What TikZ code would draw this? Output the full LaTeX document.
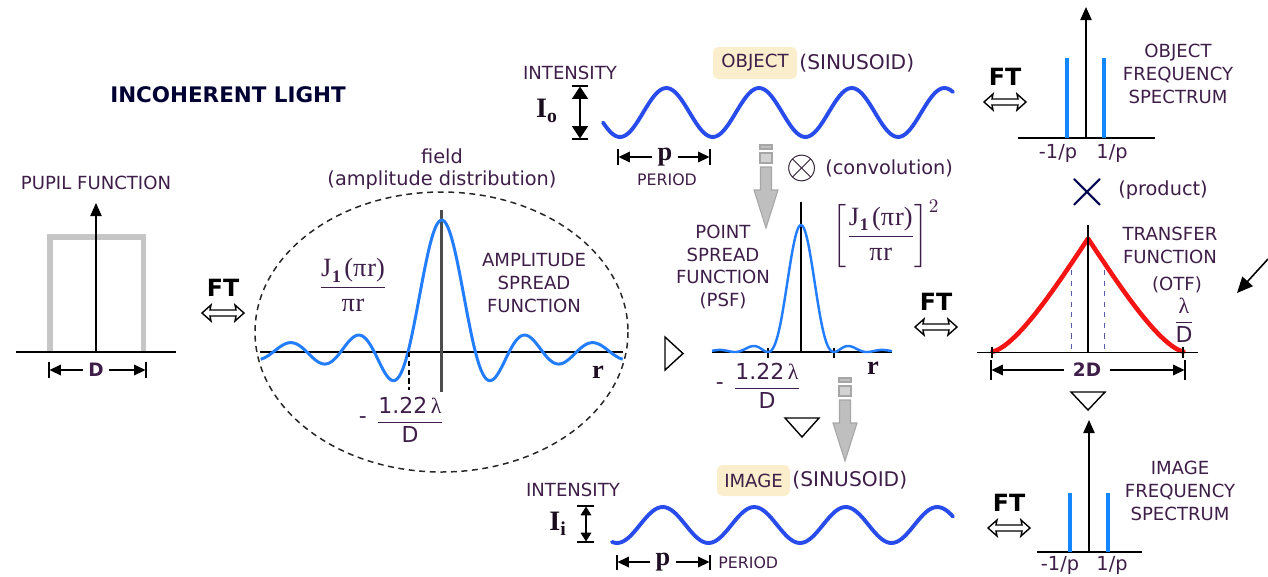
\documentclass[tikz,border=0pt]{standalone}
\usepackage{amsmath,amssymb}
\usepackage{graphicx}
\usepackage[no-math]{fontspec}
\setmainfont{DejaVu Sans}
\newfontfamily\lserif{Liberation Serif}
\usetikzlibrary{arrows.meta,positioning}

\definecolor{lblpurple}{RGB}{62,30,72}
\definecolor{asfblue}{RGB}{35,125,255}
\definecolor{sinblue}{RGB}{40,75,235}
\definecolor{barblue}{RGB}{20,135,255}
\definecolor{hilite}{RGB}{251,238,205}
\definecolor{otfred}{RGB}{245,20,20}

% J1(pi r) / pi r en romain
\newcommand{\besselnum}{\hbox{\lserif J\kern0.5pt\raisebox{-3pt}{\fontsize{10}{10}\selectfont\bfseries 1}\kern2pt(π\kern0.5pt r)}}
\newcommand{\besselden}{\hbox{\lserif π\kern0.5pt r}}

\tikzset{
  lbl/.style={text=lblpurple, font=\fontsize{10.3}{13}\selectfont, align=center, inner sep=0pt},
  smalllbl/.style={lbl, font=\fontsize{9}{11}\selectfont},
  note/.style={lbl, font=\fontsize{11}{12.5}\selectfont},
  ticklbl/.style={lbl, font=\fontsize{11}{13}\selectfont},
  titlelbl/.style={text=black!80!blue, font=\fontsize{12.2}{14}\selectfont\bfseries, inner sep=0pt},
  ftlbl/.style={font=\fontsize{13.5}{15}\selectfont\bfseries, inner sep=0pt},
  dimlbl/.style={text=lblpurple, font=\fontsize{10.5}{12}\selectfont\bfseries, inner sep=3pt},
  plbl/.style={text=lblpurple!50!black, font=\lserif\bfseries\fontsize{15}{16}\selectfont, inner sep=3pt},
  ilbl/.style={text=lblpurple!40!black, font=\lserif\bfseries\fontsize{16}{18}\selectfont, inner sep=0pt},
  mathlbl/.style={text=lblpurple, font=\fontsize{15}{17}\selectfont, inner sep=0pt},
  fraclbl/.style={text=lblpurple, font=\fontsize{12.5}{14}\selectfont, inner sep=0pt},
  opsym/.style={text=lblpurple!50!black, font=\fontsize{20}{20}\selectfont, inner sep=0pt},
  hibox/.style={lbl, fill=hilite, rounded corners=3pt},
  axis/.style={black, line width=0.8pt},
  axisarr/.style={axis, -{Triangle[length=7.5pt,width=6.5pt]}},
  dimtick/.style={black, line width=0.9pt},
  dimarr/.style={black, line width=0.9pt, -{Triangle[length=6.5pt,width=6pt]}},
  bigdim/.style={black, line width=0.9pt, {Triangle[length=7pt,width=9pt]}-{Triangle[length=7pt,width=9pt]}},
  smalldim/.style={black, line width=0.9pt, {Triangle[length=5pt,width=6pt]}-{Triangle[length=5pt,width=6pt]}},
  pupilrect/.style={gray!45, line width=3.4pt},
  fielddash/.style={gray!30!black, line width=0.85pt, dash pattern=on 3.4pt off 2.6pt},
  asfcurve/.style={asfblue, line width=1.7pt, line join=round},
  sinwave/.style={sinblue, line width=2.2pt, line cap=round},
  otfcurve/.style={otfred, line width=2.6pt, line cap=round},
  otfdash/.style={gray!70!blue, line width=0.5pt, dashed},
  zeromark/.style={black, line width=0.7pt, dash pattern=on 3pt off 2pt},
  specbar/.style={barblue, line width=2.3pt},
  hollowtri/.style={black, line width=0.8pt, line join=miter, fill=white},
  garrow/.style={fill=gray!50, draw=gray!70, line width=0.6pt},
  ftarrow/.style={black, line width=0.8pt, line join=miter, fill=white},
  ftsign/.pic={
    \node[ftlbl] (-t) at (0,-25) {FT};
    \filldraw[ftarrow] (-21,0) -- (-12,-8) -- (-13,-3) -- (13,-3) -- (12,-8) -- (21,0)
                       -- (12,8) -- (13,3) -- (-13,3) -- (-12,8) -- cycle;
  },
  grayarrow/.pic={
    \filldraw[garrow] (-6,0) rectangle (6,4);
    \filldraw[garrow, fill=gray!35] (-6,8) rectangle (6,18);
    \filldraw[garrow] (-5.5,22) -- (5.5,22) -- (5.5,45) -- (12,45) -- (0,83)
                      -- (-12,45) -- (-5.5,45) -- cycle;
  }
}

\begin{document}
\begin{tikzpicture}[x=0.02cm, y=-0.02cm,
  declare function={sincf(\t)=sin(\t*180)/(pi*\t);
                     otf(\t)=2/pi*(rad(acos(\t))-\t*sqrt(1-\t*\t));}]
  \useasboundingbox (0,0) rectangle (1268,576);

  % ==========================================
  % TITRE
  % ==========================================
  \node[titlelbl] (title) at (228,95) {INCOHERENT LIGHT};

  % ==========================================
  % SECTION 1 : PUPILLE (À GAUCHE)
  % ==========================================
  \begin{scope}
    \draw[pupilrect] (50,352) -- (50,237) -- (143.5,237) -- (143.5,352);
    \draw[axis] (16,352) -- (176,352);
    \draw[axisarr] (96,352) -- (96,203);
    \node[lbl] (pupil) at (96,183) {PUPIL FUNCTION};

    % Largeur D
    \draw[dimtick] (49,362) -- (49,378);
    \draw[dimtick] (146,362) -- (146,378);
    \node[dimlbl] (pupD) at (96,370) {D};
    \coordinate (pupL) at (49.5,370);
    \coordinate (pupR) at (145.5,370);
    \draw[dimarr] (pupD) -- (pupL);
    \draw[dimarr] (pupD) -- (pupR);
  \end{scope}

  \pic (ftA) at (223,313) {ftsign};

  % ==========================================
  % SECTION 2 : AMPLITUDE (ELLIPSE)
  % ==========================================
  \begin{scope}
    \draw[fielddash] (441.5,332) ellipse [x radius=186.5, y radius=140];
    \node[note] (field) at (442,169) {field\\(amplitude distribution)};

    \draw[axis] (260,352) -- (623,352);
    \draw[gray!60!black, line width=1.4pt] (441.7,210) -- (441.7,392);
    \draw[asfcurve] plot[domain=-181:181, samples=200]
      ({441.7+\x}, {352-132*sincf(\x/33.7)});

    % Premier zéro
    \draw[zeromark] (409,352) -- (409,390);
    \node[fraclbl] (asfz) at (410,420) {$\dfrac{\text{1.22\,{\lserif λ}}}{\text{D}}$};
    \node[fraclbl, left=5pt of asfz] (asfm) {-};

    \node[mathlbl] (asfJ) at (353,285) {$\dfrac{\besselnum}{\besselden}$};
    \node[lbl] (asfname) at (534,283) {AMPLITUDE\\SPREAD\\FUNCTION};
    \node[plbl] (asfr) at (598,372) {r};
  \end{scope}

  \draw[hollowtri] (665,337) -- (683,353.5) -- (665,370) -- cycle;

  % ==========================================
  % SECTION 3 : OBJET (SINUSOÏDE)
  % ==========================================
  \begin{scope}
    \node[lbl] (oint) at (570,73) {INTENSITY};
    \node[ilbl] (oI) at (547,111) {I\textsubscript{o}};
    \draw[dimtick] (572,86) -- (588,86);
    \draw[dimtick] (572,139) -- (588,139);
    \coordinate (oT) at (580,86.5);
    \coordinate (oB) at (580,138.5);
    \draw[bigdim] (oT) -- (oB);

    \draw[sinwave] plot[domain=603:953, samples=140]
      (\x, {112.5+24.5*cos((\x-620)/92.7*360)});

    \node[hibox, minimum width=1.68cm, minimum height=0.64cm] (objbox) at (755,63) {OBJECT};
    \node[lbl, font=\fontsize{11.5}{13}\selectfont, right=1pt of objbox] (objsin) {(SINUSOID)};

    % Période p
    \draw[dimtick] (618,149) -- (618,165);
    \draw[dimtick] (710,149) -- (710,165);
    \node[plbl] (op) at (665,157) {p};
    \coordinate (opL) at (618.5,157);
    \coordinate (opR) at (709.5,157);
    \draw[dimarr] (op) -- (opL);
    \draw[dimarr] (op) -- (opR);
    \node[smalllbl] (oper) at (667,180) {PERIOD};
  \end{scope}

  \pic (garA) at (766,145) {grayarrow};
  \node[opsym] (conv) at (802,168) {\scalebox{1.1}{$\otimes$}};
  \node[note, right=4pt of conv] (convtxt) {(convolution)};

  % ==========================================
  % SECTION 4 : PSF
  % ==========================================
  \begin{scope}
    \draw[axis] (712,352) -- (892,352);
    \draw[axis] (801,202) -- (801,352);
    \draw[dimtick] (768,348) -- (768,358);
    \draw[dimtick] (834,348) -- (834,358);
    \draw[asfcurve, line width=1.4pt] plot[domain=-89:91, samples=200]
      ({801+\x}, {352-127*sincf(\x/33)*sincf(\x/33)});

    \node[lbl] (psfname) at (723,267) {POINT\\SPREAD\\FUNCTION\\(PSF)};
    \node[mathlbl] (psfJ) at (886,234) {$\left[\dfrac{\besselnum}{\besselden}\right]^{2}$};
    \node[plbl] (psfr) at (873,368) {r};
    \node[fraclbl] (psfz) at (767,386) {$\dfrac{\text{1.22\,{\lserif λ}}}{\text{D}}$};
    \node[fraclbl, left=5pt of psfz] (psfm) {-};
  \end{scope}

  \pic (ftB) at (936,327) {ftsign};
  \draw[hollowtri] (785,418) -- (819,418) -- (802,437) -- cycle;
  \pic (garB) at (845,378) {grayarrow};

  % ==========================================
  % SECTION 5 : IMAGE (SINUSOÏDE)
  % ==========================================
  \begin{scope}
    \node[hibox, minimum width=1.46cm, minimum height=0.62cm] (imgbox) at (753.5,480.5) {IMAGE};
    \node[lbl, font=\fontsize{11.5}{13}\selectfont, right=1pt of imgbox] (imgsin) {(SINUSOID)};

    \node[lbl] (iint) at (573,490) {INTENSITY};
    \node[ilbl] (iI) at (558,524) {I\textsubscript{i}};
    \draw[dimtick] (577,506) -- (594,506);
    \draw[dimtick] (577,542) -- (594,542);
    \coordinate (iT) at (586,506.5);
    \coordinate (iB) at (586,541.5);
    \draw[smalldim] (iT) -- (iB);

    \draw[sinwave] plot[domain=612:953, samples=140]
      (\x, {525+18*cos((\x-617)/91.5*360)});

    \draw[dimtick] (617,555) -- (617,570);
    \draw[dimtick] (710,555) -- (710,570);
    \node[plbl] (ip) at (663,562) {p};
    \coordinate (ipL) at (617.5,562);
    \coordinate (ipR) at (709.5,562);
    \draw[dimarr] (ip) -- (ipL);
    \draw[dimarr] (ip) -- (ipR);
    \node[smalllbl, anchor=west] (iper) at (718,563) {PERIOD};
  \end{scope}

  % ==========================================
  % SECTION 6 : SPECTRE DE L'OBJET
  % ==========================================
  \begin{scope}
    \pic (ftC) at (1005,102) {ftsign};
    \draw[axisarr] (1086,138) -- (1086,7);
    \draw[axis] (1018,138) -- (1155,138);
    \draw[specbar] (1067,58) -- (1067,138);
    \draw[specbar] (1104,58) -- (1104,138);
    \node[ticklbl] (omin) at (1058,153) {-1/p};
    \node[ticklbl] (oplus) at (1112,153) {1/p};
    \node[lbl] (ospec) at (1178,74) {OBJECT\\FREQUENCY\\SPECTRUM};
  \end{scope}

  \node[opsym, text=black!70!blue] (prod) at (1087,192) {\scalebox{1.55}{$\times$}};
  \node[note] (prodtxt) at (1163,190) {(product)};

  % ==========================================
  % SECTION 7 : FONCTION DE TRANSFERT (OTF)
  % ==========================================
  \begin{scope}
    \draw[otfdash] (1071,270) -- (1071,352);
    \draw[otfdash] (1104,270) -- (1104,352);
    \draw[otfcurve] plot[domain=-95.4:95.4, samples=150]
      ({1088+\x}, {351.5-113*otf(abs(\x)/95.5)});
    \draw[axis] (977,352.7) -- (1198,352.7);
    \draw[axis] (1088,225) -- (1088,352.7);
    \draw[dimtick] (992,347) -- (992,358);
    \draw[dimtick] (1183,347) -- (1183,358);

    % Largeur 2D
    \draw[dimtick] (991,360) -- (991,380);
    \draw[dimtick] (1185,360) -- (1185,380);
    \node[dimlbl, inner sep=5pt] (otf2D) at (1087,370) {2D};
    \coordinate (otfL) at (991.5,370);
    \coordinate (otfR) at (1184.5,370);
    \draw[dimarr] (otf2D) -- (otfL);
    \draw[dimarr] (otf2D) -- (otfR);

    \node[lbl] (otfname) at (1170,245) {TRANSFER\\FUNCTION};
    \node[lbl] (otfpar) at (1177,285) {(OTF)};
    \node[fraclbl] (otflam) at (1184,320) {$\dfrac{\text{\lserif λ}}{\text{D}}$};

    \coordinate (farA) at (1268,259);
    \coordinate (farB) at (1237,293);
    \draw[black, line width=0.9pt, -{Triangle[length=9pt,width=8pt]}] (farA) -- (farB);
  \end{scope}

  \draw[hollowtri] (1071,392) -- (1105,392) -- (1088,410) -- cycle;

  % ==========================================
  % SECTION 8 : SPECTRE DE L'IMAGE
  % ==========================================
  \begin{scope}
    \pic (ftD) at (1009,528) {ftsign};
    \draw[axisarr] (1089,552) -- (1089,420);
    \draw[axis] (1037,552) -- (1142,552);
    \draw[specbar] (1070,493) -- (1070,552);
    \draw[specbar] (1108,493) -- (1108,552);
    \node[ticklbl] (imin) at (1060,565) {-1/p};
    \node[ticklbl] (iplus) at (1112,565) {1/p};
    \node[lbl] (ispec) at (1180,491) {IMAGE\\FREQUENCY\\SPECTRUM};
  \end{scope}

\end{tikzpicture}
\end{document}
